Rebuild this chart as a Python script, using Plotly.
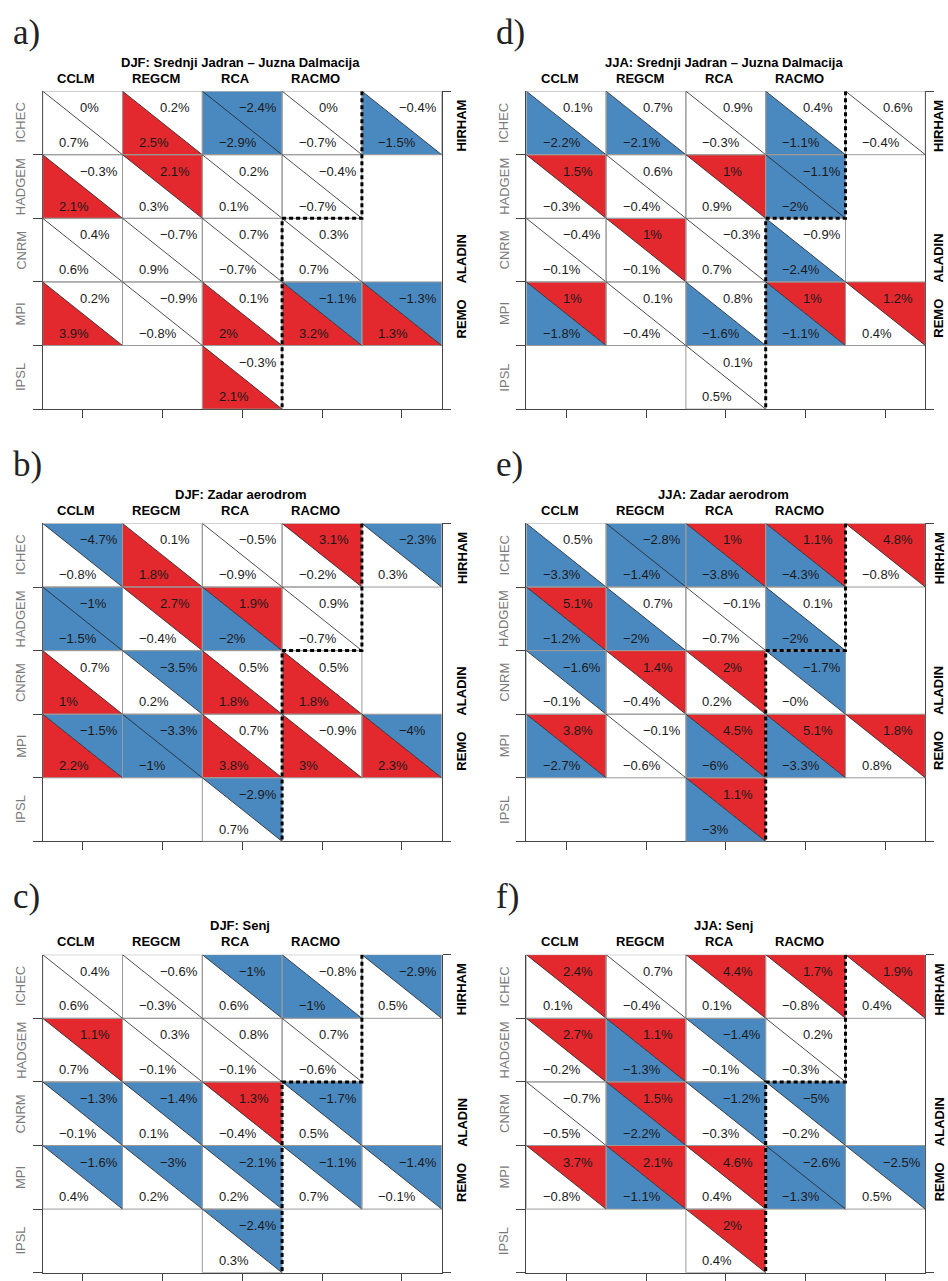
import plotly.graph_objects as go

# ---------------- data ----------------
row_names = ["ICHEC", "HADGEM", "CNRM", "MPI", "IPSL"]
col_names = ["CCLM", "REGCM", "RCA", "RACMO"]
right_names = ["HIRHAM", "ALADIN", "REMO"]
titles = ["DJF: Srednji Jadran \u2013 Juzna Dalmacija", "DJF: Zadar aerodrom", "DJF: Senj",
          "JJA: Srednji Jadran \u2013 Juzna Dalmacija", "JJA: Zadar aerodrom", "JJA: Senj"]
letters = ["a)", "b)", "c)", "d)", "e)", "f)"]
N = None

a_upper = [[0, 0.2, -2.4, 0, -0.4], [-0.3, 2.1, 0.2, -0.4, N], [0.4, -0.7, 0.7, 0.3, N],
           [0.2, -0.9, 0.1, -1.1, -1.3], [N, N, -0.3, N, N]]
a_lower = [[0.7, 2.5, -2.9, -0.7, -1.5], [2.1, 0.3, 0.1, -0.7, N], [0.6, 0.9, -0.7, 0.7, N],
           [3.9, -0.8, 2, 3.2, 1.3], [N, N, 2.1, N, N]]

b_upper = [[-4.7, 0.1, -0.5, 3.1, -2.3], [-1, 2.7, 1.9, 0.9, N], [0.7, -3.5, 0.5, 0.5, N],
           [-1.5, -3.3, 0.7, -0.9, -4], [N, N, -2.9, N, N]]
b_lower = [[-0.8, 1.8, -0.9, -0.2, 0.3], [-1.5, -0.4, -2, -0.7, N], [1, 0.2, 1.8, 1.8, N],
           [2.2, -1, 3.8, 3, 2.3], [N, N, 0.7, N, N]]

c_upper = [[0.4, -0.6, -1, -0.8, -2.9], [1.1, 0.3, 0.8, 0.7, N], [-1.3, -1.4, 1.3, -1.7, N],
           [-1.6, -3, -2.1, -1.1, -1.4], [N, N, -2.4, N, N]]
c_lower = [[0.6, -0.3, 0.6, -1, 0.5], [0.7, -0.1, -0.1, -0.6, N], [-0.1, 0.1, -0.4, 0.5, N],
           [0.4, 0.2, 0.2, 0.7, -0.1], [N, N, 0.3, N, N]]

d_upper = [[0.1, 0.7, 0.9, 0.4, 0.6], [1.5, 0.6, 1, -1.1, N], [-0.4, 1, -0.3, -0.9, N],
           [1, 0.1, 0.8, 1, 1.2], [N, N, 0.1, N, N]]
d_lower = [[-2.2, -2.1, -0.3, -1.1, -0.4], [-0.3, -0.4, 0.9, -2, N], [-0.1, -0.1, 0.7, -2.4, N],
           [-1.8, -0.4, -1.6, -1.1, 0.4], [N, N, 0.5, N, N]]

e_upper = [[0.5, -2.8, 1, 1.1, 4.8], [5.1, 0.7, -0.1, 0.1, N], [-1.6, 1.4, 2, -1.7, N],
           [3.8, -0.1, 4.5, 5.1, 1.8], [N, N, 1.1, N, N]]
e_lower = [[-3.3, -1.4, -3.8, -4.3, -0.8], [-1.2, -2, -0.7, -2, N], [-0.1, -0.4, 0.2, -0.0, N],
           [-2.7, -0.6, -6, -3.3, 0.8], [N, N, -3, N, N]]

f_upper = [[2.4, 0.7, 4.4, 1.7, 1.9], [2.7, 1.1, -1.4, 0.2, N], [-0.7, 1.5, -1.2, -5, N],
           [3.7, 2.1, 4.6, -2.6, -2.5], [N, N, 2, N, N]]
f_lower = [[0.1, -0.4, 0.1, -0.8, 0.4], [-0.2, -1.3, -0.1, -0.3, N], [-0.5, -2.2, -0.3, -0.2, N],
           [-0.8, -1.1, 0.4, -1.3, 0.5], [N, N, 0.4, N, N]]

uppers = [a_upper, b_upper, c_upper, d_upper, e_upper, f_upper]
lowers = [a_lower, b_lower, c_lower, d_lower, e_lower, f_lower]

# ---------------- style ----------------
W, H = 948, 1281
RED = "#E3282E"
BLUE = "#4A88C0"
GRID = "#9A9A9A"
AXC = "#444444"
FONT = "Liberation Sans"
grid_lefts = [42.7, 526.3]
grid_tops = [91.7, 526.7, 960.7]
CW, RH = 79.8, 64.0
GW, GH = 5 * CW, 5 * RH


def fmt(v):
    s = f"{v:g}"
    return s.replace("-", "\u2212") + "%"


def colour(v):
    if v is None:
        return None
    if v >= 1:
        return RED
    if v <= -1:
        return BLUE
    return None


def px(x):
    return x / W


def py(y):
    return 1 - y / H


fig = go.Figure()
layout = dict(width=W, height=H, margin=dict(l=0, r=0, t=0, b=0),
              paper_bgcolor="white", plot_bgcolor="white", showlegend=False)
annotations = []
shapes = []

for p in range(6):
    pc, pr = p // 3, p % 3
    left, top = grid_lefts[pc], grid_tops[pr]
    i = p + 1
    xa, ya, ya2 = f"x{i}", f"y{i}", f"y{i + 6}"
    xk, yk, yk2 = f"xaxis{i}", f"yaxis{i}", f"yaxis{i + 6}"
    xdom = [left / W, (left + GW) / W]
    ydom = [max(0, 1 - (top + GH) / H), 1 - top / H]
    layout[xk] = dict(domain=xdom, range=[0, 5], anchor=ya, showgrid=False, zeroline=False,
                      showline=True, linecolor=AXC, linewidth=1, ticks="outside",
                      tickvals=[0.5, 1.5, 2.5, 3.5, 4.5], ticklen=8, tickcolor=AXC,
                      showticklabels=False, fixedrange=True)
    layout[yk] = dict(domain=ydom, range=[5, 0], anchor=xa, showgrid=False, zeroline=False,
                      showline=True, linecolor=AXC, linewidth=1, ticks="outside",
                      tickvals=[1, 2, 3, 4, 5], ticklen=9, tickcolor=AXC,
                      showticklabels=False, fixedrange=True)
    layout[yk2] = dict(range=[5, 0], overlaying=ya, anchor=xa, side="right", showgrid=False,
                       zeroline=False, showline=True, linecolor=AXC, linewidth=1,
                       ticks="outside", tickvals=[0, 5], ticklen=8, tickcolor=AXC,
                       showticklabels=False, fixedrange=True)

    up, lo = uppers[p], lowers[p]
    polys = {RED: ([], []), BLUE: ([], [])}
    for r in range(5):
        for c in range(5):
            u, l = up[r][c], lo[r][c]
            if u is None and l is None:
                continue
            cu, cl = colour(u), colour(l)
            if cu:
                polys[cu][0].extend([c, c + 1, c + 1, c, None])
                polys[cu][1].extend([r, r, r + 1, r, None])
            if cl:
                polys[cl][0].extend([c, c, c + 1, c, None])
                polys[cl][1].extend([r, r + 1, r + 1, r, None])
            shapes.append(dict(type="rect", xref=xa, yref=ya, x0=c, x1=c + 1, y0=r, y1=r + 1,
                               line=dict(color=GRID, width=1)))
            shapes.append(dict(type="line", xref=xa, yref=ya, x0=c, x1=c + 1, y0=r, y1=r + 1,
                               line=dict(color="#222222", width=0.8)))
            annotations.append(dict(xref=xa, yref=ya, x=c + 35 / CW, y=r + 16.6 / RH,
                                    text=fmt(u), showarrow=False, xanchor="left",
                                    yanchor="middle", font=dict(family=FONT, size=13, color="#1a1a1a")))
            annotations.append(dict(xref=xa, yref=ya, x=c + 14.5 / CW, y=r + 51.6 / RH,
                                    text=fmt(l), showarrow=False, xanchor="left",
                                    yanchor="middle", font=dict(family=FONT, size=13, color="#1a1a1a")))
    for colr, (pxs, pys) in polys.items():
        if pxs:
            fig.add_trace(go.Scatter(x=pxs, y=pys, xaxis=xa, yaxis=ya, mode="lines",
                                     fill="toself", fillcolor=colr, line=dict(width=0),
                                     hoverinfo="skip"))
    fig.add_trace(go.Scatter(x=[0.5], y=[0.5], xaxis=xa, yaxis=ya2, mode="markers",
                             marker=dict(opacity=0), hoverinfo="skip"))

    shapes.append(dict(type="path", xref=xa, yref=ya,
                       path="M 4 0 L 4 2 L 3 2 L 3 5",
                       line=dict(color="black", width=3, dash="4px,3px")))

    # labels outside the grid (paper coordinates)
    annotations.append(dict(xref="paper", yref="paper", x=px(left + 197.5), y=py(top - 29),
                            text=f"<b>{titles[p]}</b>", showarrow=False, xanchor="center",
                            yanchor="middle", font=dict(family=FONT, size=13, color="black")))
    for c, name in enumerate(col_names):
        annotations.append(dict(xref="paper", yref="paper", x=px(left + (c + 0.5) * CW - 6.5),
                                y=py(top - 13), text=f"<b>{name}</b>", showarrow=False,
                                xanchor="center", yanchor="middle",
                                font=dict(family=FONT, size=13, color="black")))
    for r, name in enumerate(row_names):
        annotations.append(dict(xref="paper", yref="paper", x=px(left - 22),
                                y=py(top + (r + 0.5) * RH), text=name, showarrow=False,
                                textangle=-90, xanchor="center", yanchor="middle",
                                font=dict(family=FONT, size=13, color="#7a7a7a")))
    rx = min(left + GW + 20, W - 9)
    for name, yy in zip(right_names, [35, 168.5, 229]):
        annotations.append(dict(xref="paper", yref="paper", x=px(rx),
                                y=py(top + yy), text=f"<b>{name}</b>", showarrow=False,
                                textangle=-90, xanchor="center", yanchor="middle",
                                font=dict(family=FONT, size=13, color="black")))
    annotations.append(dict(xref="paper", yref="paper", x=px(left - 32), y=py(top - 59),
                            text=letters[p], showarrow=False, xanchor="left", yanchor="middle",
                            font=dict(family="Liberation Serif", size=35, color="#222222")))

layout["annotations"] = annotations
layout["shapes"] = shapes
fig.update_layout(**layout)
fig.write_html("out.html", config={"displayModeBar": False},
               post_script="document.body.style.margin='0px';")
